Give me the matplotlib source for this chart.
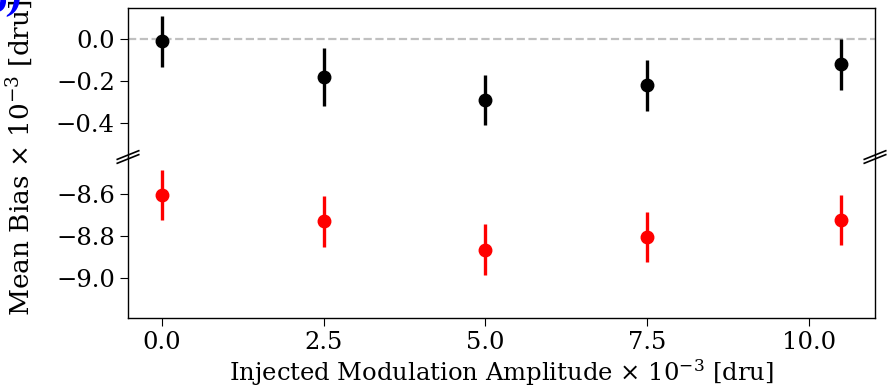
import matplotlib
matplotlib.use("Agg")
import matplotlib.pyplot as plt

plt.rcParams['font.family'] = ['DejaVu Serif']
plt.rcParams['mathtext.fontset'] = 'dejavuserif'

amplitudes = [0.0, 2.5, 5.0, 7.5, 10.5]
bias_black = [-0.01, -0.18, -0.29, -0.22, -0.12]
err_black = [0.12, 0.14, 0.12, 0.12, 0.12]
bias_red = [-8.605, -8.73, -8.865, -8.805, -8.725]
err_red = [0.12, 0.12, 0.12, 0.12, 0.12]
xticks = [0.0, 2.5, 5.0, 7.5, 10.0]
top_yticks = [-0.4, -0.2, 0.0]
bot_yticks = [-9.0, -8.8, -8.6]

W, H = 895, 392
fig = plt.figure(figsize=(W / 100, H / 100), dpi=100)
L, R = 128 / W, 875 / W
top_ax = fig.add_axes([L, 1 - 157 / H, R - L, (157 - 8) / H])
bot_ax = fig.add_axes([L, 1 - 318 / H, R - L, (318 - 157) / H], sharex=top_ax)

fs = 17.5
top_ax.axhline(0, color='#c0c0c0', ls='--', lw=1.6, zorder=0)
top_ax.errorbar(amplitudes, bias_black, yerr=err_black, fmt='o', color='black',
                ms=9, elinewidth=2.4, capsize=0)
bot_ax.errorbar(amplitudes, bias_red, yerr=err_red, fmt='o', color='red',
                ms=9, elinewidth=2.4, capsize=0)

top_ax.set_ylim(-0.56, 0.148)
bot_ax.set_ylim(-9.19, -8.424)
top_ax.set_yticks(top_yticks)
bot_ax.set_yticks(bot_yticks)
bot_ax.set_xticks(xticks)
top_ax.spines['bottom'].set_visible(False)
bot_ax.spines['top'].set_visible(False)
top_ax.tick_params(axis='x', bottom=False, labelbottom=False)
for ax in (top_ax, bot_ax):
    ax.tick_params(labelsize=fs, length=6)
    for s in ax.spines.values():
        s.set_linewidth(1.0)

bot_ax.set_xlabel(r'Injected Modulation Amplitude $\times$ 10$^{-3}$ [dru]', fontsize=fs,
                  labelpad=2)
fig.text(20 / W, 1 - 158 / H, r'Mean Bias $\times$ 10$^{-3}$ [dru]', rotation=90,
         ha='center', va='center', fontsize=19)

# break marks
d = 0.012
kw = dict(transform=fig.transFigure, color='k', clip_on=False, lw=1.2)
yb = 1 - 157 / H
for xx in (L, R):
    fig.add_artist(plt.Line2D([xx - d, xx + d], [yb - 0.016, yb + 0.006], **kw))
    fig.add_artist(plt.Line2D([xx - d, xx + d], [yb - 0.006, yb + 0.016], **kw))

fig.text(22 / W, 1 - 4 / H, '(b)', color='blue', fontsize=22, fontweight='bold',
         style='italic', ha='right', va='center')

fig.savefig('out.png', dpi=100)
